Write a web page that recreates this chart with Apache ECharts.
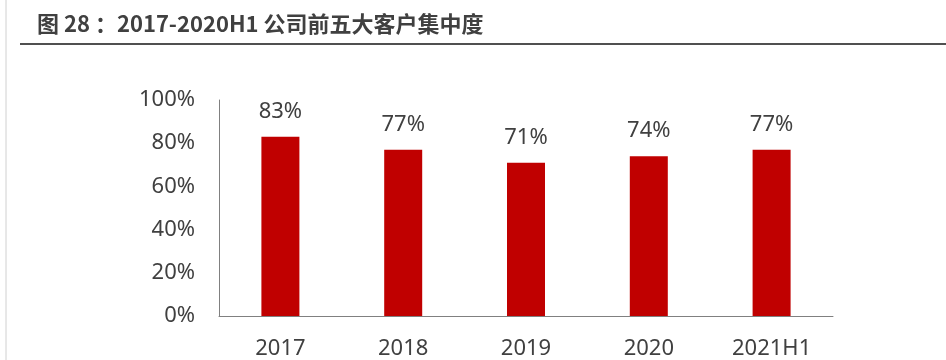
<!DOCTYPE html>
<html><head><meta charset="utf-8">
<script src="https://cdn.jsdelivr.net/npm/echarts@6/dist/echarts.min.js"></script>
<style>html,body{margin:0;padding:0;background:#fff}#c{width:946px;height:360px}</style>
</head><body><div id="c"></div>
<script>
const categories = ['2017', '2018', '2019', '2020', '2021H1'];
const concentration = [83, 77, 71, 74, 77];
const yTicks = [0, 20, 40, 60, 80, 100];
const titleText = '图 28 ：2017-2020H1 公司前五大客户集中度';

const chart = echarts.init(document.getElementById('c'));
chart.setOption({
  animation: false,
  title: {
    text: titleText, left: 32, top: 8,
    textStyle: { fontFamily: 'Noto Sans CJK SC', fontWeight: 'bold', fontSize: 22, color: '#404040' }
  },
  graphic: [
    { type: 'line', shape: { x1: 20, y1: 44, x2: 946, y2: 44 }, style: { stroke: '#505050', lineWidth: 2 } },
    { type: 'line', shape: { x1: 6, y1: 0, x2: 6, y2: 360 }, style: { stroke: '#d0d0d0', lineWidth: 1 } }
  ],
  grid: { left: 219, right: 113, top: 100, bottom: 43, containLabel: false },
  xAxis: {
    type: 'category', data: categories,
    axisLine: { lineStyle: { color: '#808080', width: 1 } },
    axisTick: { show: false },
    axisLabel: { margin: 22, color: '#404040', fontSize: 22, fontFamily: 'Noto Sans' }
  },
  yAxis: {
    type: 'value', min: yTicks[0], max: yTicks[yTicks.length - 1], interval: 20,
    axisLine: { show: true, lineStyle: { color: '#808080', width: 1 } },
    axisTick: { show: false },
    splitLine: { show: false },
    axisLabel: { margin: 24, color: '#404040', fontSize: 22, fontFamily: 'Noto Sans', formatter: v => v + '%' }
  },
  series: [{
    type: 'bar', data: concentration, barWidth: 38,
    itemStyle: { color: '#C00000' },
    label: { show: true, position: 'top', distance: 14, formatter: p => p.value + '%', color: '#404040', fontSize: 22, fontFamily: 'Noto Sans' }
  }]
});
</script></body></html>
